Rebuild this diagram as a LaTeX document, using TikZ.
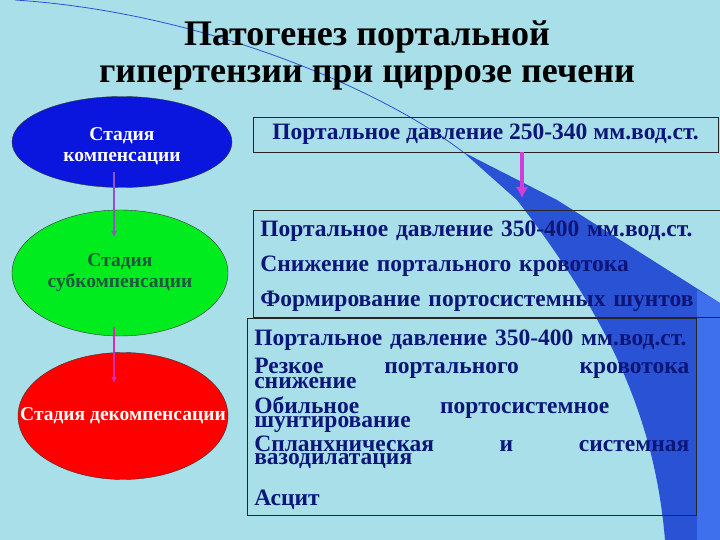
\documentclass[tikz,border=0pt]{standalone}
\usepackage{fontspec}
\setmainfont{Liberation Serif}
\usepackage{tikz}
\usetikzlibrary{shapes.geometric,arrows.meta}
\definecolor{drops}{RGB}{168,223,233}
\definecolor{swoosh}{RGB}{42,82,212}
\definecolor{swooshlight}{RGB}{62,112,238}
\definecolor{navytext}{RGB}{12,22,120}
\definecolor{stageblue}{RGB}{10,22,222}
\definecolor{stagegreen}{RGB}{0,236,30}
\definecolor{stagered}{RGB}{255,0,0}
\definecolor{subtext}{RGB}{28,90,60}
\definecolor{arrowviolet}{RGB}{150,80,200}
\definecolor{arrowpink}{RGB}{222,40,180}
\definecolor{arrowmagenta}{RGB}{210,60,215}
\newcommand\spreadgap{\hskip 0pt plus 1filll\relax}
\tikzset{
    stage/.style={
      ellipse,
      draw=black!80, thin,
      inner sep=0pt,
      align=center,
      font=\bfseries\fontsize{19.5}{21}\selectfont},
    panel/.style={
      rectangle,
      draw=black!85, semithick,
      text=navytext,
      font=\bfseries\fontsize{23.5}{35}\selectfont},
    stagearrow/.style={line width=1.6pt, -{Latex[length=6pt,width=6pt]}},
}

\begin{document}
\begin{tikzpicture}[x=1pt,y=-1pt]
        % background and swoosh
        \fill[drops] (0,0) rectangle (720,540);
        \useasboundingbox (0,0) rectangle (720,540);
        \draw[swoosh, line width=0.8pt] (15,0) .. controls (200,12) and (380,88) .. (463,152);
        \fill[swoosh] (463,152) -- (557,200) -- (720,303) -- (720,540) -- (665,540)
            .. controls (655,420) and (610,320) .. (517,200) -- cycle;
        \fill[swooshlight] (697,290) -- (720,303) -- (720,540) -- (697,540) -- cycle;

        \node[font=\bfseries\fontsize{36}{37}\selectfont, align=center] (title) at (367,55)
            {Патогенез портальной\\гипертензии при циррозе печени};

        % stages
        \node[stage, fill=stageblue, text=white, minimum width=220pt, minimum height=91pt] (comp) at (122,142)
            {\rule{0pt}{22pt}Стадия\\компенсации};
        \node[stage, fill=stagegreen, text=subtext, minimum width=216pt, minimum height=126pt] (subcomp) at (120,273)
            {Стадия\\субкомпенсации};
        \node[stage, fill=stagered, text=white, minimum width=210pt, minimum height=127pt] (decomp) at (123,416)
            {\makebox[0pt]{Стадия декомпенсации}};
        \draw[stagearrow, arrowviolet, shorten <=30pt, shorten >=36pt] ([xshift=-8pt]comp.center) -- ([xshift=-6pt]subcomp.center);
        \draw[stagearrow, arrowpink, shorten <=54pt, shorten >=33pt] ([xshift=-6pt]subcomp.center) -- ([xshift=-9pt]decomp.center);

        % pressure panels
        \node[panel, minimum width=465pt, minimum height=35pt] (normal) at (485.5,134.5)
            {Портальное давление 250-340 мм.вод.ст.};
        \node[panel, anchor=north west, text width=453pt, inner xsep=7pt, inner ysep=6pt, align=left] (early) at (253,210)
            {\parindent=0pt \rule{0pt}{20pt}Портальное давление 350-400 мм.вод.ст.\\
             Снижение портального кровотока\\
             Формирование портосистемных шунтов};
        \node[panel, anchor=north west, text width=435pt, inner xsep=7pt, inner ysep=5pt, align=left,
              font=\bfseries\fontsize{23.5}{14}\selectfont] (late) at (247,318)
            {\parindent=0pt\lineskiplimit=-100pt
             \rule{0pt}{22pt}Портальное давление 350-400 мм.вод.ст.\\[14pt]
             Резкое\spreadgap портального\spreadgap кровотока\\[1pt]
             снижение\\[11pt]
             Обильное\hspace{81pt}портосистемное\\
             шунтирование\\[10pt]
             Спланхническая\spreadgap и\spreadgap системная\\[-1pt]
             вазодилатация\\[21pt]
             Асцит};
        \draw[arrowmagenta, line width=4.5pt, -{Latex[length=11pt,width=13pt]}, shorten >=12pt]
            ([xshift=36.5pt]normal.south) -- ([xshift=36.5pt]normal.south |- early.north);
\end{tikzpicture}
\end{document}
